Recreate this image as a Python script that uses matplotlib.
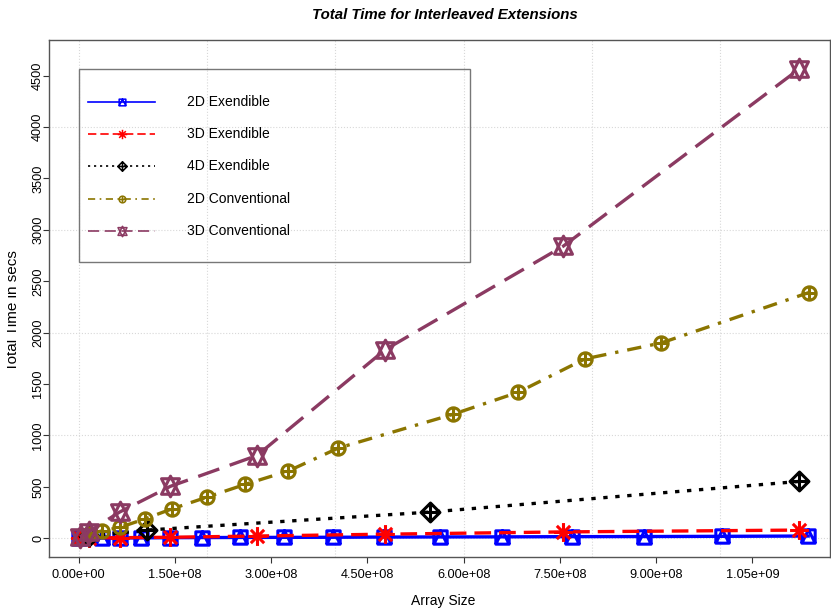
import numpy as np
import matplotlib.pyplot as plt
from matplotlib.path import Path
from matplotlib.lines import Line2D
from matplotlib.patches import Rectangle
from matplotlib.transforms import Bbox, TransformedBbox

plt.rcParams['font.family'] = ['Liberation Sans', 'DejaVu Sans']

# timings (secs) against array size for each storage scheme
x_2d_ext = [1e6, 3.6e7, 6.5e7, 9.8e7, 1.43e8, 1.92e8, 2.52e8, 3.2e8, 3.97e8,
            4.76e8, 5.63e8, 6.6e8, 7.69e8, 8.81e8, 1.003e9, 1.137e9]
y_2d_ext = [1, 2, 3, 4, 6, 7, 8, 9, 10, 12, 13, 14, 16, 17, 19, 22]

x_3d_ext = [2e6, 1.6e7, 6.4e7, 1.43e8, 2.78e8, 4.78e8, 7.55e8, 1.123e9]
y_3d_ext = [1, 3, 6, 10, 22, 40, 62, 80]

x_4d_ext = [1.6e7, 1.07e8, 5.48e8, 1.123e9]
y_4d_ext = [20, 80, 255, 553]

x_2d_conv = [1.6e7, 3.6e7, 6.4e7, 1.04e8, 1.45e8, 2.0e8, 2.6e8, 3.27e8, 4.05e8,
             5.83e8, 6.85e8, 7.89e8, 9.08e8, 1.138e9]
y_2d_conv = [40, 71, 105, 190, 285, 400, 525, 655, 878, 1205, 1420, 1745, 1900, 2390]

x_3d_conv = [2e6, 1.6e7, 6.4e7, 1.43e8, 2.78e8, 4.78e8, 7.55e8, 1.123e9]
y_3d_conv = [15, 65, 255, 505, 805, 1835, 2840, 4565]

labels = ['2D Exendible', '3D Exendible', '4D Exendible', '2D Conventional', '3D Conventional']
xticks = [0, 1.5e8, 3.0e8, 4.5e8, 6.0e8, 7.5e8, 9.0e8, 1.05e9]
xtick_labels = ['0.00e+00', '1.50e+08', '3.00e+08', '4.50e+08',
                '6.00e+08', '7.50e+08', '9.00e+08', '1.05e+09']
yticks = list(range(0, 5000, 500))


# R style plotting symbols built as open paths
def lines_path(segs):
    verts, codes = [], []
    for a, b in segs:
        verts += [a, b]
        codes += [Path.MOVETO, Path.LINETO]
    return Path(verts, codes)

r2 = np.sqrt(2)
square = Path([(-1, -1), (1, -1), (1, 1), (-1, 1), (-1, -1)],
              [Path.MOVETO] + [Path.LINETO] * 3 + [Path.CLOSEPOLY])
pch14 = Path.make_compound_path(square, Path([(-1, -1), (0, 1), (1, -1)],
                                             [Path.MOVETO, Path.LINETO, Path.LINETO]))
pch8 = lines_path([((0, -r2), (0, r2)), ((-r2, 0), (r2, 0)),
                   ((-1, -1), (1, 1)), ((-1, 1), (1, -1))])
diamond = Path([(r2, 0), (0, r2), (-r2, 0), (0, -r2), (r2, 0)],
               [Path.MOVETO] + [Path.LINETO] * 3 + [Path.CLOSEPOLY])
pch9 = Path.make_compound_path(diamond, lines_path([((0, -r2), (0, r2)), ((-r2, 0), (r2, 0))]))
pch10 = Path.make_compound_path(Path.unit_circle(), lines_path([((0, -1), (0, 1)), ((-1, 0), (1, 0))]))
tr, tx, ty = 1.5551, 1.3468, 1.1664
tri_up = Path([(0, tr), (tx, -ty), (-tx, -ty), (0, tr)],
              [Path.MOVETO, Path.LINETO, Path.LINETO, Path.CLOSEPOLY])
tri_dn = Path([(0, -tr), (tx, ty), (-tx, ty), (0, -tr)],
              [Path.MOVETO, Path.LINETO, Path.LINETO, Path.CLOSEPOLY])
pch11 = Path.make_compound_path(tri_up, tri_dn)

# marker path, relative extent, colour, dash pattern (in line widths)
styles = [
    (pch14, 1.0, '#0000FF', '-'),
    (pch8, r2, '#FF0000', (0, (5, 2.4))),
    (pch9, r2, '#000000', (0, (1.3, 2.3))),
    (pch10, 1.0, '#8B7500', (0, (4.3, 2.7, 1, 2.7))),
    (pch11, 1.555, '#8B3A62', (0, (6.7, 3.3))),
]
series = [(x_2d_ext, y_2d_ext), (x_3d_ext, y_3d_ext), (x_4d_ext, y_4d_ext),
          (x_2d_conv, y_2d_conv), (x_3d_conv, y_3d_conv)]

W, H = 831, 612
fig = plt.figure(figsize=(W / 100, H / 100), dpi=100)
ax = fig.add_axes([49 / W, 1 - 557 / H, 781 / W, 517 / H])

for xg in range(0, 1200000000, 200000000):
    ax.axvline(xg, color='#D8D8D8', linestyle=':', lw=0.8, zorder=0)
for yg in range(0, 5000, 1000):
    ax.axhline(yg, color='#D8D8D8', linestyle=':', lw=0.8, zorder=0)

R = 4.8
for (xs, ys), (mk, ext, col, ls) in zip(series, styles):
    ax.plot(xs, ys, color=col, linestyle=ls, lw=2.4, marker=mk,
            markersize=2 * ext * R, markerfacecolor='none',
            markeredgecolor=col, markeredgewidth=2.2)

ax.set_xlim(-4.6e7, 1.171e9)
ax.set_ylim(-182, 4847)
ax.set_xticks(xticks)
ax.set_xticklabels(xtick_labels)
ax.set_yticks(yticks)
ax.set_yticklabels([str(v) for v in yticks], rotation=90, va='center')
ax.tick_params(axis='both', labelsize=9.2, length=4.5, width=0.8, color='#333333')
ax.tick_params(axis='x', pad=4.5)
ax.tick_params(axis='y', pad=-1.0)
for sp in ax.spines.values():
    sp.set_color('#555555')
    sp.set_linewidth(1.0)

fig.text(445 / W, 1 - 15 / H, 'Total Time for Interleaved Extensions',
         ha='center', va='center', fontsize=10.8, fontweight='bold', fontstyle='italic')
fig.text(443 / W, 1 - 601 / H, 'Array Size', ha='center', va='center', fontsize=10)
ylab = fig.text(17 / W, 0.5 - 5 / H, 'Total Time in secs', rotation=90, rotation_mode='anchor',
                ha='center', va='baseline', fontsize=11)
ylab.set_clip_box(TransformedBbox(Bbox([[7 / W, 0], [1, 1]]), fig.transFigure))
ylab.set_clip_on(True)

# legend box drawn in pixel space
def fx(px):
    return px / W

def fy(py):
    return 1 - py / H

fig.add_artist(Rectangle((fx(79), fy(262)), (470 - 79) / W, (262 - 69) / H,
                         transform=fig.transFigure, fill=False,
                         edgecolor='#777777', lw=1.0))
Rl = 2.4
for i, (lab, (mk, ext, col, ls)) in enumerate(zip(labels, styles)):
    yy = 101.7 + i * 32.3
    fig.add_artist(Line2D([fx(88), fx(155)], [fy(yy), fy(yy)], transform=fig.transFigure,
                          color=col, linestyle=ls, lw=1.2))
    fig.add_artist(Line2D([fx(121.5)], [fy(yy)], transform=fig.transFigure, linestyle='none',
                          marker=mk, markersize=2 * ext * Rl, markerfacecolor='none',
                          markeredgecolor=col, markeredgewidth=1.1))
    fig.text(fx(187), fy(yy), lab, ha='left', va='center', fontsize=10)

fig.savefig('out.png', dpi=100)
